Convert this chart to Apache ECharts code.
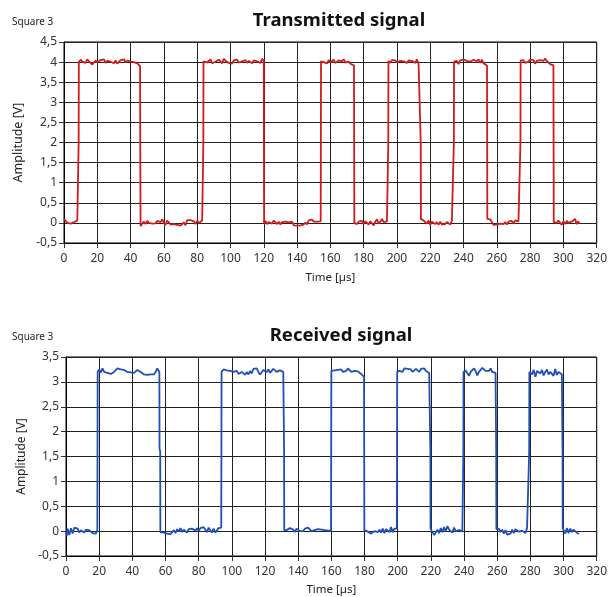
<!DOCTYPE html>
<html>
<head>
<meta charset="utf-8">
<script src="https://cdn.jsdelivr.net/npm/echarts@6/dist/echarts.min.js"></script>
<style>
html,body{margin:0;padding:0;background:#fff;}
#c{width:610px;height:597px;}
</style>
</head>
<body>
<div id="c"></div>
<script>
// ---- Data ----
const titles = ['Transmitted signal', 'Received signal'];
const subLabel = 'Square 3';
const xName = 'Time [µs]';
const yName = 'Amplitude [V]';

const txPoints = [
[0,0.10],[1,0.07],[2,0.0],[3,-0.03],[4,-0.02],[5,-0.03],[6,0.02],[7,0.05],[8,0.06],[8.7,0.07],[8.8,2.0],[8.9,4.0],
[10,4.06],[11,4.01],[12,4.03],[13,3.98],[14,4.07],[15,4.02],[16,4.03],[17,3.94],[18,3.97],[19,4.04],[20,3.99],[21,3.96],[22,4.05],[23,4.02],[24,4.07],[25,3.98],[26,4.03],[27,4.06],[28,4.01],[29,4.05],[30,3.97],[31,4.04],[32,3.96],[33,3.95],[34,4.05],[35,4.02],[36,4.07],[37,3.99],[38,4.04],[39,4.0],[40,4.01],[41,3.99],[42,4.0],[43,3.98],[44,3.97],[45,3.93],[45.7,3.9],[45.8,2.0],[46.0,-0.08],
[47,-0.02],[48,0.03],[49,-0.03],[50,0.05],[51,0.0],[52,0.03],[53,-0.02],[54,0.02],[55,-0.01],[56,0.05],[57,0.07],[58,0.02],[59,0.09],[60,0.0],[61,-0.05],[62,0.06],[63,0.1],[64,-0.04],[65,-0.07],[66,-0.03],[67,-0.07],[68,-0.05],[69,-0.02],[70,-0.07],[71,-0.03],[72,0.01],[73,-0.06],[74,0.07],[75,0.08],[76,0.07],[77,0.1],[78,0.04],[79,-0.03],[80,0.05],[81,0.0],[82,-0.03],[83,0.06],[83.6,0.08],[83.7,2.0],[83.8,4.02],
[85,4.05],[86,3.99],[87,4.03],[88,4.07],[89,3.97],[90,3.94],[91,4.01],[92,3.98],[93,4.06],[94,4.02],[95,3.97],[96,4.08],[97,4.03],[98,4.05],[99,3.98],[100,4.02],[101,3.96],[102,4.04],[103,4.0],[104,4.06],[105,3.99],[106,3.97],[107,4.02],[108,4.0],[109,4.05],[110,3.98],[111,4.03],[112,4.0],[113,3.97],[114,4.04],[115,4.07],[116,4.02],[117,4.0],[118,3.98],[119,4.08],[120.0,4.03],[120.1,2.0],[120.2,-0.02],
[121,0.05],[122,-0.03],[123,0.02],[124,0.05],[125,-0.02],[126,0.06],[127,0.02],[128,-0.03],[129,0.03],[130,-0.04],[131,0.02],[132,0.0],[133,0.03],[134,0.05],[135,0.01],[136,-0.02],[137,0.03],[138,-0.06],[139,-0.05],[140,-0.07],[141,-0.03],[142,-0.06],[143,-0.08],[144,-0.04],[145,0.01],[146,-0.04],[147,0.06],[148,0.02],[149,0.08],[150,0.03],[151,0.05],[152,0.03],[153,0.07],[154.2,0.04],[154.3,2.0],[154.4,4.02],
[155,4.04],[156,4.0],[157,4.02],[158,3.97],[159,4.05],[160,3.99],[161,4.02],[162,4.06],[163,3.98],[164,3.95],[165,4.04],[166,4.01],[167,4.02],[168,4.07],[169,3.99],[170,4.02],[171,4.01],[172,3.96],[173,3.93],[174.2,3.92],[174.3,2.0],[174.4,0.0],
[175,0.02],[176,-0.03],[177,0.03],[178,0.0],[179,0.05],[180,-0.03],[181,0.04],[182,0.01],[183,-0.04],[184,0.04],[185,0.08],[186,-0.06],[187,0.03],[188,0.09],[189,-0.02],[190,0.03],[191,0.1],[192,0.02],[193,0.05],[194,0.04],[194.7,0.06],[194.8,2.0],[194.9,4.03],
[196,3.98],[197,4.05],[198,4.02],[199,4.04],[200,3.99],[201,3.96],[202,4.03],[203,4.05],[204,4.02],[205,4.06],[206,3.98],[207,4.04],[208,4.01],[209,4.03],[210,4.05],[211,3.98],[212,4.07],[213,3.95],[214.2,3.92],[214.3,2.0],[214.4,0.1],
[215,0.1],[216,0.06],[217,0.05],[218,-0.02],[219,0.06],[220,-0.05],[221,0.03],[222,0.05],[223,-0.03],[224,0.02],[225,-0.05],[226,0.03],[227,-0.04],[228,0.0],[229,-0.03],[230,0.02],[231,0.0],[232,-0.04],[233,0.05],[234.1,0.04],[234.2,2.0],[234.3,4.01],
[235,4.0],[236,4.03],[237,3.95],[238,4.04],[239,4.01],[240,4.06],[241,4.08],[242,4.03],[243,4.05],[244,4.01],[245,4.0],[246,4.06],[247,4.03],[248,4.02],[249,4.07],[250,3.98],[251,4.06],[252,3.97],[253,3.93],[254.1,3.91],[254.2,2.0],[254.3,0.1],
[255,0.1],[256,0.09],[257,0.08],[258,-0.05],[259,-0.06],[260,-0.04],[261,-0.07],[262,-0.02],[263,-0.06],[264,-0.03],[265,0.02],[266,-0.04],[267,0.03],[268,0.0],[269,0.05],[270,-0.02],[271,0.06],[272,0.02],[273,0.04],[274.1,0.05],[274.2,2.0],[274.3,4.04],
[275,4.03],[276,4.05],[277,3.98],[278,4.02],[279,4.01],[280,4.06],[281,4.03],[282,4.05],[283,3.96],[284,4.03],[285,4.01],[286,4.05],[287,4.02],[288,4.03],[289,4.09],[290,4.03],[291,4.04],[292,3.95],[293,3.93],[294.0,3.92],[294.1,2.0],[294.2,0.02],
[295,0.05],[296,0.0],[297,0.06],[298,0.02],[299,-0.05],[300,0.04],[301,-0.03],[302,0.05],[303,0.0],[304,-0.04],[305,0.03],[306,0.02],[307,0.1],[308,-0.03],[309,0.04],[309.5,-0.02]
];

const rxPoints = [
[0,0.0],[0.5,-0.1],[1,0.05],[2,-0.08],[3,0.06],[4,-0.05],[5,0.07],[6,0.03],[7,0.05],[8,-0.03],[9,0.02],[10,0.0],[11,-0.03],[12,0.03],[13,0.07],[14,0.02],[15,-0.02],[16,-0.04],[17,-0.07],[18,-0.05],[18.9,0.02],[19.0,1.6],[19.1,3.2],
[19.4,3.22],[20,3.25],[21,3.19],[22,3.27],[23,3.2],[24,3.24],[25,3.18],[26,3.22],[27,3.16],[28,3.12],[29,3.2],[30,3.24],[31,3.27],[32,3.23],[33,3.25],[34,3.22],[35,3.24],[36,3.21],[37,3.2],[38,3.22],[39,3.19],[40,3.21],[41,3.18],[42,3.21],[43,3.24],[44,3.26],[45,3.2],[46,3.16],[47,3.15],[48,3.16],[49,3.14],[50,3.16],[51,3.15],[52,3.18],[53,3.15],[54,3.2],[55,3.27],[56,3.25],[56.3,3.2],[56.4,1.65],[56.8,1.6],[56.9,-0.02],
[58,-0.02],[59,-0.03],[60,-0.02],[61,-0.05],[62,-0.02],[63,-0.06],[64,-0.03],[65,0.02],[66,-0.04],[67,0.04],[68,-0.01],[69,0.06],[70,-0.02],[71,0.03],[72,0.02],[73,-0.03],[74,0.04],[75,0.0],[76,0.05],[77,0.02],[78,0.01],[79,0.06],[80,0.01],[81,0.06],[82,0.02],[83,0.08],[84,0.03],[85,-0.02],[86,0.07],[87,0.03],[88,-0.03],[89,0.05],[90,-0.03],[91,0.0],[92,0.06],[93,0.07],[93.6,0.07],[93.7,1.65],[93.8,3.2],
[94,3.22],[95,3.25],[96,3.27],[97,3.23],[98,3.24],[99,3.22],[100,3.25],[101,3.2],[102,3.17],[103,3.22],[104,3.16],[105,3.13],[106,3.2],[107,3.18],[108,3.14],[109,3.2],[110,3.15],[111,3.22],[112,3.17],[113,3.26],[114,3.24],[115,3.27],[116,3.2],[117,3.15],[118,3.19],[119,3.24],[120,3.26],[121,3.2],[122,3.25],[123,3.18],[124,3.22],[125,3.26],[126,3.24],[127,3.2],[128,3.22],[129,3.23],[130,3.19],[131,3.2],[131.4,3.18],[131.5,1.6],[131.6,0.02],
[132,0.02],[133,0.02],[134,0.02],[135,0.06],[136,0.08],[137,0.03],[138,-0.02],[139,0.05],[140,0.02],[141,0.0],[142,-0.04],[143,0.0],[144,0.05],[145,0.02],[146,0.07],[147,0.04],[148,0.0],[149,-0.03],[150,0.02],[151,0.05],[152,0.04],[153,0.0],[154,0.03],[155,0.05],[156,0.02],[157,-0.01],[158,0.01],[159,0.02],[159.8,0.01],[159.9,1.6],[160.0,3.22],
[161,3.25],[162,3.23],[163,3.26],[164,3.24],[165,3.21],[166,3.25],[167,3.2],[168,3.23],[169,3.22],[170,3.27],[171,3.26],[172,3.2],[173,3.24],[174,3.22],[175,3.25],[176,3.21],[177,3.18],[178,3.16],[179,3.12],[179.7,3.1],[179.8,1.6],[179.9,0.02],
[180.3,0.04],[181,0.02],[182,-0.01],[183,0.02],[184,-0.05],[185,-0.03],[186,0.0],[187,0.04],[188,-0.02],[189,0.03],[190,-0.03],[191,0.05],[192,-0.04],[193,0.04],[194,0.07],[195,-0.02],[196,0.08],[197,-0.02],[198,0.05],[199,0.02],[199.5,0.05],[199.6,1.6],[199.7,3.2],
[200,3.16],[201,3.22],[202,3.24],[203,3.2],[204,3.27],[205,3.24],[206,3.26],[207,3.22],[208,3.25],[209,3.2],[210,3.23],[211,3.26],[212,3.24],[213,3.2],[214,3.26],[215,3.24],[216,3.27],[217,3.22],[218,3.2],[219,3.18],[219.6,3.16],[219.7,1.6],[219.8,0.05],
[221,0.02],[222,-0.08],[223,-0.05],[224,0.03],[225,-0.04],[226,0.06],[227,-0.02],[228,0.08],[229,0.0],[230,0.1],[231,0.03],[232,0.06],[233,-0.03],[234,0.07],[235,0.0],[236,-0.03],[237,0.02],[238,-0.01],[239,0.0],[239.5,0.01],[239.6,1.6],[239.7,3.2],
[240,3.18],[241,3.23],[242,3.25],[243,3.12],[244,3.2],[245,3.18],[246,3.27],[247,3.22],[248,3.13],[249,3.2],[250,3.24],[251,3.28],[252,3.25],[253,3.22],[254,3.26],[255,3.22],[256,3.27],[257,3.2],[258,3.2],[259,3.18],[259.3,3.16],[259.4,1.6],[259.5,0.04],
[260,0.04],[261,0.05],[262,-0.02],[263,0.03],[264,-0.05],[265,0.02],[266,-0.07],[267,-0.08],[268,-0.05],[269,0.03],[270,-0.04],[271,0.04],[272,0.0],[273,-0.01],[274,0.03],[275,0.01],[276,0.05],[277,-0.04],[278,0.06],[279.2,0.02],[279.3,1.6],[279.4,3.2],
[280,3.18],[281,3.15],[282,3.24],[283,3.1],[284,3.22],[285,3.26],[286,3.17],[287,3.24],[288,3.13],[289,3.2],[290,3.25],[291,3.15],[292,3.2],[293,3.24],[294,3.12],[295,3.26],[296,3.14],[297,3.2],[298,3.24],[299,3.15],[299.3,3.14],[299.4,1.6],[299.5,0.06],
[300,0.06],[301,-0.05],[302,0.06],[303,-0.04],[304,0.05],[305,-0.02],[306,0.03],[307,0.07],[308,-0.03],[309,-0.02],[309.3,-0.06]
];

const xTicks = {min: 0, max: 320, interval: 20};
const yTicksTx = {min: -0.5, max: 4.5, interval: 0.5};
const yTicksRx = {min: -0.5, max: 3.5, interval: 0.5};

// ---- Chart ----
const FONT = '"Noto Sans", "Open Sans", sans-serif';
const chart = echarts.init(document.getElementById('c'), null, {renderer: 'canvas'});
const comma = v => String(v).replace('.', ',');

function xAxisCfg(gi, gap) {
  return {
    gridIndex: gi, type: 'value', min: xTicks.min, max: xTicks.max, interval: xTicks.interval,
    name: xName, nameLocation: 'middle', nameGap: gap,
    nameTextStyle: {color: '#222', fontSize: 11.5, fontFamily: FONT},
    axisLine: {show: true, onZero: false, lineStyle: {color: '#000', width: 1}},
    axisTick: {show: true, length: 5, lineStyle: {color: '#333'}},
    axisLabel: {color: '#333', fontSize: 12, fontFamily: FONT, margin: 10, formatter: comma},
    splitLine: {show: true, lineStyle: {color: '#222', width: 1}}
  };
}
function yAxisCfg(gi, t, gap, fs) {
  return {
    gridIndex: gi, type: 'value', min: t.min, max: t.max, interval: t.interval,
    name: yName, nameLocation: 'middle', nameGap: gap,
    nameTextStyle: {color: '#222', fontSize: fs, fontFamily: FONT},
    axisLine: {show: true, onZero: false, lineStyle: {color: '#000', width: 1}},
    axisTick: {show: true, length: 5, lineStyle: {color: '#333'}},
    axisLabel: {color: '#333', fontSize: 12, fontFamily: FONT, margin: 7, formatter: comma},
    splitLine: {show: true, lineStyle: {color: '#222', width: 1}}
  };
}

chart.setOption({
  animation: false,
  backgroundColor: '#fff',
  title: [
    {text: titles[0], left: 334, top: 6, textAlign: 'center', textStyle: {fontSize: 18.5, fontWeight: 'bold', color: '#111', fontFamily: FONT}},
    {text: titles[1], left: 336, top: 321, textAlign: 'center', textStyle: {fontSize: 18.5, fontWeight: 'bold', color: '#111', fontFamily: FONT}},
    {text: subLabel, left: 7, top: 12, textStyle: {fontSize: 10, fontWeight: 'normal', color: '#222', fontFamily: FONT}},
    {text: subLabel, left: 7, top: 327, textStyle: {fontSize: 10, fontWeight: 'normal', color: '#222', fontFamily: FONT}}
  ],
  grid: [
    {left: 64, top: 42, width: 539, height: 201, show: true, borderColor: '#000', borderWidth: 1, containLabel: false},
    {left: 66, top: 357, width: 537, height: 201, show: true, borderColor: '#000', borderWidth: 1, containLabel: false}
  ],
  xAxis: [xAxisCfg(0, 29), xAxisCfg(1, 28)],
  yAxis: [yAxisCfg(0, yTicksTx, 31, 12.5), yAxisCfg(1, yTicksRx, 33, 12)],
  series: [
    {type: 'line', xAxisIndex: 0, yAxisIndex: 0, data: txPoints, showSymbol: false, symbol: 'none',
     lineStyle: {color: '#d01c1c', width: 1.8}, itemStyle: {color: '#d01c1c'}},
    {type: 'line', xAxisIndex: 1, yAxisIndex: 1, data: rxPoints, showSymbol: false, symbol: 'none',
     lineStyle: {color: '#1f4fb8', width: 1.8}, itemStyle: {color: '#1f4fb8'}}
  ]
});
</script>
</body>
</html>
